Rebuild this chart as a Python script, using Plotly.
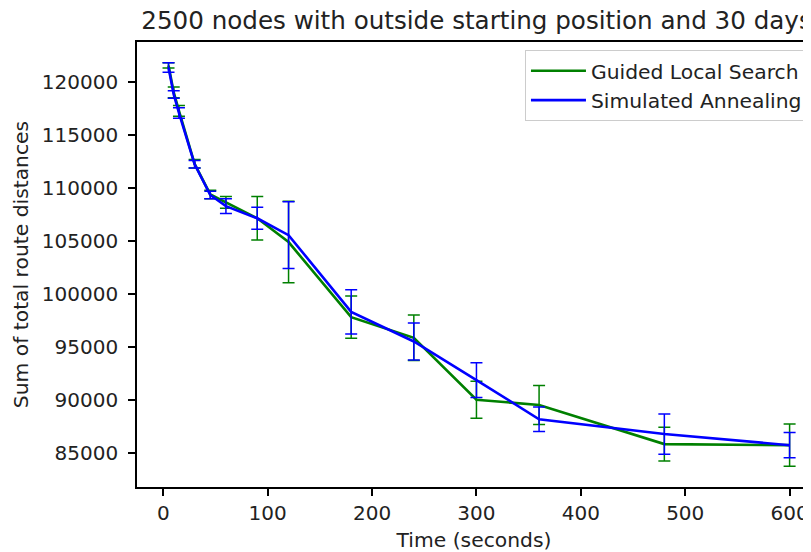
import plotly.graph_objects as go

# ---- data ----
time_s = [5, 10, 15, 30, 45, 60, 90, 120, 180, 240, 300, 360, 480, 600]
gls_mean = [121600, 119050, 117300, 112300, 109400, 108650, 107150, 104900,
            97800, 95850, 90000, 89500, 85800, 85700]
gls_err = [250, 500, 500, 400, 400, 550, 2050, 3850, 2000, 2150, 1750, 1850, 1600, 2000]
sa_mean = [121400, 118850, 117100, 112250, 109350, 108300, 107150, 105550,
           98300, 95500, 91850, 88150, 86750, 85700]
sa_err = [450, 350, 500, 350, 350, 700, 1050, 3150, 2100, 1750, 1650, 1150, 1900, 1200]

x_ticks = [0, 100, 200, 300, 400, 500, 600]
y_ticks = [85000, 90000, 95000, 100000, 105000, 110000, 115000, 120000]

GREEN = "#008000"
BLUE = "#0000ff"
FONT = "DejaVu Sans"
TXT = "#222222"

fig = go.Figure()
fig.add_trace(go.Scatter(
    x=time_s, y=gls_mean, mode="lines", name="Guided Local Search",
    line=dict(color=GREEN, width=2.6),
    error_y=dict(type="data", array=gls_err, visible=True,
                 color=GREEN, thickness=1.5, width=6),
))
fig.add_trace(go.Scatter(
    x=time_s, y=sa_mean, mode="lines", name="Simulated Annealing",
    line=dict(color=BLUE, width=2.6),
    error_y=dict(type="data", array=sa_err, visible=True,
                 color=BLUE, thickness=1.5, width=6),
))

W, H = 803, 544
fig.update_layout(
    width=W, height=H,
    margin=dict(l=129, r=0, t=34, b=65),
    paper_bgcolor="white", plot_bgcolor="white",
    font=dict(family=FONT, size=20.3, color=TXT),
    title=dict(
        text="2500 nodes with outside starting position and 30 days",
        font=dict(family=FONT, size=24.6, color=TXT),
        x=468.5 / W, xanchor="center", xref="container",
        y=1 - 21 / H, yanchor="bottom", yref="container",
    ),
    showlegend=True,
    legend=dict(
        x=0.9955, y=0.982, xanchor="right", yanchor="top",
        bgcolor="rgba(255,255,255,0.8)", bordercolor="#cccccc", borderwidth=1,
        font=dict(family=FONT, size=20.3, color=TXT),
        tracegroupgap=0, itemwidth=55,
    ),
    xaxis=dict(
        range=[-25.2, 620.5], tickmode="array", tickvals=x_ticks,
        showline=True, linecolor="black", linewidth=1.6, mirror=True,
        ticks="outside", ticklen=7, tickwidth=1.6, tickcolor="black",
        showgrid=False, zeroline=False,
        tickfont=dict(family=FONT, size=20, color=TXT),
        title=dict(text="Time (seconds)", standoff=10,
                   font=dict(family=FONT, size=20.3, color=TXT)),
    ),
    yaxis=dict(
        range=[81746, 123812], tickmode="array", tickvals=y_ticks,
        ticktext=[str(v) for v in y_ticks],
        showline=True, linecolor="black", linewidth=1.6, mirror=False,
        ticks="outside", ticklen=7, tickwidth=1.6, tickcolor="black",
        showgrid=False, zeroline=False, ticklabelstandoff=6,
        tickfont=dict(family=FONT, size=20, color=TXT),
        title=dict(text="Sum of total route distances", standoff=8,
                   font=dict(family=FONT, size=20.3, color=TXT)),
    ),
)

fig.write_html("out.html")
